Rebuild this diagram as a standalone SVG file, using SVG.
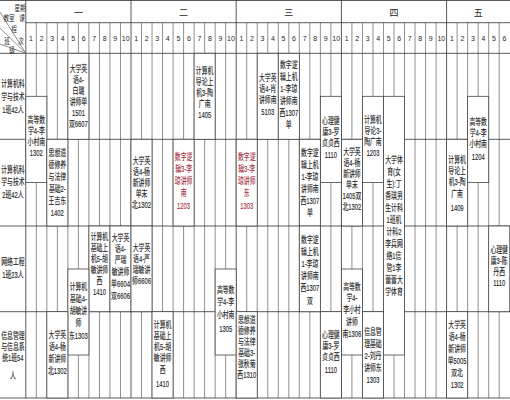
<svg xmlns="http://www.w3.org/2000/svg" width="510" height="400" viewBox="0 0 510 400">
<style>
.g{stroke:#6a6a6a;stroke-width:0.75;fill:none}
.b{stroke:#3c3c3c;stroke-width:0.85;fill:none}
.c rect{fill:#fff;stroke:#444;stroke-width:0.8}
text{font-family:"Liberation Sans","Noto Sans CJK SC",sans-serif;fill:#262626;text-anchor:middle;dominant-baseline:central}
.t text{font-size:9px;stroke:#262626;stroke-width:0.15}
.red text{fill:#a83244;stroke:#a83244}
.n text{font-size:7px}
.d text{font-size:9px}
.h text{font-size:7.5px}
</style>
<rect width="510" height="400" fill="#fff"/>
<g id="grid">
<path class="g" d="M36.32 22.7V398M46.84 22.7V398M57.36 22.7V398M67.88 22.7V398M78.4 22.7V398M88.92 22.7V398M99.44 22.7V398M109.96 22.7V398M120.48 22.7V398M141.52 22.7V398M152.04 22.7V398M162.56 22.7V398M173.08 22.7V398M183.6 22.7V398M194.12 22.7V398M204.64 22.7V398M215.16 22.7V398M225.68 22.7V398M246.72 22.7V398M257.24 22.7V398M267.76 22.7V398M278.28 22.7V398M288.8 22.7V398M299.32 22.7V398M309.84 22.7V398M320.36 22.7V398M330.88 22.7V398M351.92 22.7V398M362.44 22.7V398M372.96 22.7V398M383.48 22.7V398M394 22.7V398M404.52 22.7V398M415.04 22.7V398M425.56 22.7V398M436.08 22.7V398M457.12 22.7V398M467.64 22.7V398M478.16 22.7V398M488.68 22.7V398M499.2 22.7V398"/>
<path class="b" d="M25.8 0V398M131 0V398M236.2 0V398M341.4 0V398M446.6 0V398M0 0.5H510M25.8 22.7H510M0 53.3H510M0 139.3H510M0 226H510M0 311.7H510M0 398H510"/>
<path class="g" d="M25.8 53.3L0 12M25.8 53.3L0 28M25.8 53.3L0 44"/>
</g>
<g id="corner" class="h">
<g transform="translate(20,8) scale(0.75,1)"><text>星期</text></g>
<g transform="translate(9,18) scale(0.75,1)"><text>教室</text></g>
<g transform="translate(22,18) scale(0.75,1)"><text>课</text></g>
<g transform="translate(14,29) scale(0.75,1)"><text>程</text></g>
<g transform="translate(7,41) scale(0.75,1)"><text>班</text></g>
<g transform="translate(21,41) scale(0.75,1)"><text>次</text></g>
<g transform="translate(12,50) scale(0.75,1)"><text>级</text></g>
</g>
<g id="days" class="d">
<text x="78.4" y="12.5">一</text>
<text x="183.6" y="12.5">二</text>
<text x="288.8" y="12.5">三</text>
<text x="394" y="12.5">四</text>
<text x="478.16" y="12.5">五</text>
</g>
<g id="periods" class="n">
<text x="31.06" y="38">1</text><text x="41.58" y="38">2</text><text x="52.1" y="38">3</text><text x="62.62" y="38">4</text><text x="73.14" y="38">5</text><text x="83.66" y="38">6</text><text x="94.18" y="38">7</text><text x="104.7" y="38">8</text><text x="115.22" y="38">9</text><text x="125.74" y="38">10</text>
<text x="136.26" y="38">1</text><text x="146.78" y="38">2</text><text x="157.3" y="38">3</text><text x="167.82" y="38">4</text><text x="178.34" y="38">5</text><text x="188.86" y="38">6</text><text x="199.38" y="38">7</text><text x="209.9" y="38">8</text><text x="220.42" y="38">9</text><text x="230.94" y="38">10</text>
<text x="241.46" y="38">1</text><text x="251.98" y="38">2</text><text x="262.5" y="38">3</text><text x="273.02" y="38">4</text><text x="283.54" y="38">5</text><text x="294.06" y="38">6</text><text x="304.58" y="38">7</text><text x="315.1" y="38">8</text><text x="325.62" y="38">9</text><text x="336.14" y="38">10</text>
<text x="346.66" y="38">1</text><text x="357.18" y="38">2</text><text x="367.7" y="38">3</text><text x="378.22" y="38">4</text><text x="388.74" y="38">5</text><text x="399.26" y="38">6</text><text x="409.78" y="38">7</text><text x="420.3" y="38">8</text><text x="430.82" y="38">9</text><text x="441.34" y="38">10</text>
<text x="451.86" y="38">1</text><text x="462.38" y="38">2</text><text x="472.9" y="38">3</text><text x="483.42" y="38">4</text><text x="493.94" y="38">5</text><text x="504.46" y="38">6</text>
</g>
<g id="class1" class="t"><g transform="translate(12.9,0) scale(0.65,1)"><text y="84">计算机科</text><text y="97">学与技术</text><text y="110">1班42人</text></g></g>
<g id="class2" class="t"><g transform="translate(12.9,0) scale(0.65,1)"><text y="170">计算机科</text><text y="182">学与技术</text><text y="195">2班42人</text></g></g>
<g id="class3" class="t"><g transform="translate(12.9,0) scale(0.65,1)"><text y="262">网络工程</text><text y="275">1班23人</text></g></g>
<g id="class4" class="t"><g transform="translate(12.9,0) scale(0.65,1)"><text y="336">信息管理</text><text y="347">与信息系</text><text y="358">统1班54</text><text y="376">人</text></g></g>

<g id="b1" class="c t"><rect x="25.8" y="96.3" width="21.04" height="86.3"/><g transform="translate(36.32,0) scale(0.65,1)"><text y="120">高等数</text><text y="131">学4-李</text><text y="142">小村南</text><text y="153">1302</text></g></g>
<g id="b2" class="c t"><rect x="67.88" y="53.3" width="21.04" height="86"/><g transform="translate(78.4,0) scale(0.65,1)"><text y="69.5">大学英</text><text y="80.5">语4-</text><text y="91.5">白璐</text><text y="102.5">讲师单</text><text y="113.5">1501</text><text y="124.5">双6607</text></g></g>
<g id="b3" class="c t"><rect x="46.84" y="139.3" width="21.04" height="86.7"/><g transform="translate(57.36,0) scale(0.65,1)"><text y="153">思想道</text><text y="165">德修养</text><text y="177">与法律</text><text y="189">基础2-</text><text y="201">王吉东</text><text y="213">1402</text></g></g>
<g id="b4" class="c t"><rect x="131" y="139.3" width="21.04" height="86.7"/><g transform="translate(141.52,0) scale(0.65,1)"><text y="161">大学英</text><text y="172">语4-杨</text><text y="183">新讲师</text><text y="194">单末</text><text y="205">北1302</text></g></g>
<g id="b5" class="c t red"><rect x="173.08" y="139.3" width="21.04" height="86.7"/><g transform="translate(183.6,0) scale(0.65,1)"><text y="157">数字逻</text><text y="169">辑3-李</text><text y="181">琼讲师</text><text y="193">南</text><text y="206">1203</text></g></g>
<g id="b6" class="c t red"><rect x="236.2" y="139.3" width="21.04" height="86.7"/><g transform="translate(246.72,0) scale(0.65,1)"><text y="157">数字逻</text><text y="169">辑3-李</text><text y="181">琼讲师</text><text y="193">东</text><text y="206">1303</text></g></g>
<g id="b7" class="c t"><rect x="194.12" y="53.3" width="21.04" height="86"/><g transform="translate(204.64,0) scale(0.65,1)"><text y="71">计算机</text><text y="82">导论上</text><text y="93">机3-陶</text><text y="104">广南</text><text y="115">1405</text></g></g>
<g id="b8" class="c t"><rect x="257.24" y="53.3" width="21.04" height="86"/><g transform="translate(267.76,0) scale(0.65,1)"><text y="78">大学英</text><text y="89">语4-肖</text><text y="100">讲师南</text><text y="112">5103</text></g></g>
<g id="b9" class="c t"><rect x="278.28" y="53.3" width="21.04" height="86"/><g transform="translate(288.8,0) scale(0.65,1)"><text y="65">数字逻</text><text y="77">辑上机</text><text y="89">1-李琼</text><text y="101">讲师南</text><text y="113">西1307</text><text y="125">单</text></g></g>
<g id="b10" class="c t"><rect x="320.36" y="96.3" width="21.04" height="86.3"/><g transform="translate(330.88,0) scale(0.65,1)"><text y="121">心理健</text><text y="132">康3-罗</text><text y="143">贞贞西</text><text y="155">1110</text></g></g>
<g id="b11" class="c t"><rect x="341.4" y="139.3" width="21.04" height="86.7"/><g transform="translate(351.92,0) scale(0.65,1)"><text y="152">大学英</text><text y="163">语4-杨</text><text y="174">新讲师</text><text y="185">单末</text><text y="196">1405双</text><text y="207">北1302</text></g></g>
<g id="b12" class="c t"><rect x="362.44" y="96.3" width="21.04" height="86.3"/><g transform="translate(372.96,0) scale(0.65,1)"><text y="120.5">计算机</text><text y="131.5">导论3-</text><text y="142.5">陶广南</text><text y="153.5">1203</text></g></g>
<g id="b13" class="c t"><rect x="383.48" y="96.3" width="21.04" height="258.7"/><g transform="translate(394,0) scale(0.65,1)"><text y="160">大学体</text><text y="172">育(女</text><text y="184">生):丁</text><text y="196">香琪男</text><text y="208">生计科</text><text y="220">1班机</text><text y="232">计科2</text><text y="244">李兵网</text><text y="256">络1信</text><text y="268">管1李</text><text y="280">蕾蕾大</text><text y="292">学体育</text></g></g>
<g id="b14" class="c t"><rect x="467.64" y="96.3" width="21.04" height="86.3"/><g transform="translate(478.16,0) scale(0.65,1)"><text y="122">高等数</text><text y="133">学4-李</text><text y="144">小村南</text><text y="157">1204</text></g></g>
<g id="b15" class="c t"><rect x="446.6" y="139.3" width="21.04" height="86.7"/><g transform="translate(457.12,0) scale(0.65,1)"><text y="160">计算机</text><text y="171">导论上</text><text y="182">机3-陶</text><text y="194">广南</text><text y="208">1409</text></g></g>
<g id="b16" class="c t"><rect x="88.92" y="226" width="21.04" height="85.7"/><g transform="translate(99.44,0) scale(0.65,1)"><text y="237">计算机</text><text y="248">基础上</text><text y="259">机5-胡</text><text y="270">敏讲师</text><text y="281">西</text><text y="292">1410</text></g></g>
<g id="b17" class="c t"><rect x="109.96" y="226" width="21.04" height="85.7"/><g transform="translate(120.48,0) scale(0.65,1)"><text y="238">大学英</text><text y="249">语4-</text><text y="260">严瑞</text><text y="272">敏讲师</text><text y="284">单6604</text><text y="296">双6606</text></g></g>
<g id="b18" class="c t"><rect x="131" y="226" width="21.04" height="85.7"/><g transform="translate(141.52,0) scale(0.65,1)"><text y="248.5">大学英</text><text y="259.5">语4-严</text><text y="270.5">瑞敏讲</text><text y="281.5">师6606</text></g></g>
<g id="b19" class="c t"><rect x="299.32" y="139.3" width="21.04" height="86.7"/><g transform="translate(309.84,0) scale(0.65,1)"><text y="153">数字逻</text><text y="165">辑上机</text><text y="177">1-李琼</text><text y="189">讲师南</text><text y="201">西1307</text><text y="213">单</text></g></g>
<g id="b20" class="c t"><rect x="299.32" y="226" width="21.04" height="85.7"/><g transform="translate(309.84,0) scale(0.65,1)"><text y="240">数字逻</text><text y="252">辑上机</text><text y="264">1-李琼</text><text y="276">讲师南</text><text y="288">西1307</text><text y="301">双</text></g></g>
<g id="b21" class="c t"><rect x="488.68" y="226" width="21.04" height="85.7"/><g transform="translate(499.2,0) scale(0.65,1)"><text y="250">心理健</text><text y="261">康3-陈</text><text y="272">丹西</text><text y="283">1110</text></g></g>
<g id="b22" class="c t"><rect x="67.88" y="269" width="21.04" height="86"/><g transform="translate(78.4,0) scale(0.65,1)"><text y="287">计算机</text><text y="299">基础4-</text><text y="311">胡敏讲</text><text y="323">师</text><text y="336">东1303</text></g></g>
<g id="b23" class="c t"><rect x="215.16" y="269" width="21.04" height="86"/><g transform="translate(225.68,0) scale(0.65,1)"><text y="290">高等数</text><text y="302">学4-李</text><text y="315">小村南</text><text y="329">1305</text></g></g>
<g id="b24" class="c t"><rect x="341.4" y="269" width="21.04" height="86"/><g transform="translate(351.92,0) scale(0.65,1)"><text y="287">高等数</text><text y="298">学4-</text><text y="310">李小村</text><text y="322">讲师</text><text y="334">南1306</text></g></g>
<g id="b25" class="c t"><rect x="46.84" y="311.7" width="21.04" height="86.3"/><g transform="translate(57.36,0) scale(0.65,1)"><text y="335">大学英</text><text y="347">语4-杨</text><text y="359">新讲师</text><text y="371">北1302</text></g></g>
<g id="b26" class="c t"><rect x="152.04" y="311.7" width="21.04" height="86.3"/><g transform="translate(162.56,0) scale(0.65,1)"><text y="325">计算机</text><text y="336">基础上</text><text y="347">机5-胡</text><text y="358">敏讲师</text><text y="370">西</text><text y="384">1410</text></g></g>
<g id="b27" class="c t"><rect x="236.2" y="311.7" width="21.04" height="86.3"/><g transform="translate(246.72,0) scale(0.65,1)"><text y="320.5">思想道</text><text y="331.5">德修养</text><text y="342.5">与法律</text><text y="353.5">基础3-</text><text y="364.5">张秋菊</text><text y="375.5">西1310</text></g></g>
<g id="b28" class="c t"><rect x="320.36" y="311.7" width="21.04" height="86.3"/><g transform="translate(330.88,0) scale(0.65,1)"><text y="335">心理健</text><text y="346">康3-罗</text><text y="357">贞贞西</text><text y="370">1110</text></g></g>
<g id="b29" class="c t"><rect x="362.44" y="311.7" width="21.04" height="86.3"/><g transform="translate(372.96,0) scale(0.65,1)"><text y="332">信息管</text><text y="344">理基础</text><text y="356">2-刘丹</text><text y="368">讲师东</text><text y="380">1303</text></g></g>
<g id="b30" class="c t"><rect x="446.6" y="311.7" width="21.04" height="86.3"/><g transform="translate(457.12,0) scale(0.65,1)"><text y="325">大学英</text><text y="337">语4-杨</text><text y="349">新讲师</text><text y="361">单5005</text><text y="373">双北</text><text y="385">1302</text></g></g>
<g id="connectors"/>
</svg>
